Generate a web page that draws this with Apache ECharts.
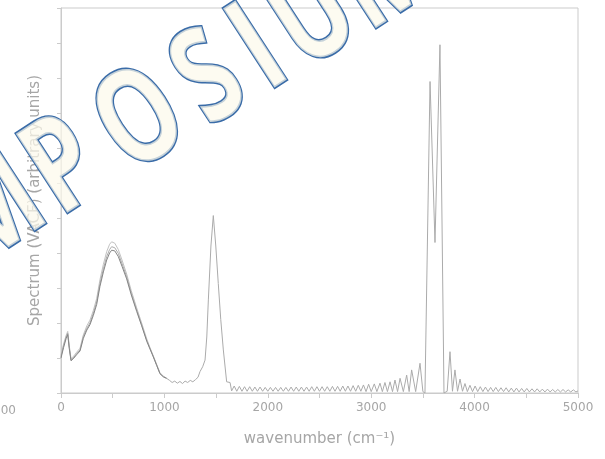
<!DOCTYPE html>
<html>
<head>
<meta charset="utf-8">
<script src="https://cdn.jsdelivr.net/npm/echarts@6/dist/echarts.min.js"></script>
<style>
  html, body { margin: 0; padding: 0; background: #fff; }
  #chart { width: 605px; height: 459px; }
</style>
</head>
<body>
<div id="chart"></div>
<script>
// Vibrational spectrum: wavenumber (cm^-1) against spectral intensity (arbitrary units)
const wavenumber = [
  0, 25, 50, 65, 80, 97, 125, 150, 184, 216, 250, 280, 313, 345, 377, 410, 442, 470, 490, 520,
  554, 590, 635, 680, 732, 780, 829, 860, 893, 925, 957, 990, 1021, 1050, 1075, 1100, 1125, 1150,
  1175, 1200, 1225, 1250, 1275, 1300, 1325, 1344, 1370, 1393, 1410, 1425, 1450, 1473, 1497, 1521,
  1545, 1570, 1602, 1635,
  1650, 1675, 1700, 1725, 1750, 1775, 1800, 1825, 1850, 1875, 1900, 1925, 1950, 1975, 2000, 2025,
  2050, 2075, 2100, 2125, 2150, 2175, 2200, 2225, 2250, 2275, 2300, 2325, 2350, 2375, 2400, 2425,
  2450, 2475, 2500, 2525, 2550, 2575, 2600, 2625, 2650, 2675, 2700, 2725, 2750, 2775, 2800, 2825,
  2850, 2875, 2900, 2925, 2950, 2975, 3000,
  3030, 3055, 3085, 3108, 3133, 3157, 3182, 3206, 3230, 3255, 3279, 3311, 3343, 3367, 3391, 3430,
  3472, 3500, 3520, 3569, 3617, 3665, 3704,
  3735, 3762, 3786, 3810, 3835, 3859, 3883, 3907, 3930, 3955, 3980, 4005, 4030, 4055, 4080, 4105,
  4130, 4155, 4180, 4205, 4230, 4255, 4280, 4305, 4330, 4355, 4380, 4405, 4430, 4455, 4480, 4505,
  4530, 4555, 4580, 4605, 4630, 4655, 4680, 4705, 4730, 4755, 4780, 4805, 4830, 4855, 4880, 4905,
  4930, 4955, 4980, 5000
];

const spectrumMain = [
  1.04, 1.35, 1.60, 1.71, 1.30, 0.94, 1.02, 1.12, 1.23, 1.61, 1.85, 2.00, 2.28, 2.60, 3.13, 3.55, 3.90, 4.10, 4.18, 4.15,
  3.99, 3.70, 3.32, 2.85, 2.37, 1.95, 1.51, 1.28, 1.04, 0.80, 0.56, 0.47, 0.42, 0.36, 0.30, 0.34, 0.28, 0.33,
  0.27, 0.34, 0.30, 0.36, 0.32, 0.38, 0.45, 0.61, 0.75, 0.94, 1.60, 2.66, 4.20, 5.07, 4.20, 3.13,
  2.10, 1.23, 0.32, 0.30,
  0.06, 0.20, 0.05, 0.19, 0.05, 0.18, 0.05, 0.18, 0.05, 0.17, 0.05, 0.17, 0.05, 0.16, 0.05, 0.16,
  0.05, 0.16, 0.05, 0.16, 0.05, 0.16, 0.05, 0.17, 0.05, 0.17, 0.05, 0.17, 0.05, 0.17, 0.05, 0.18,
  0.05, 0.18, 0.05, 0.18, 0.05, 0.18, 0.05, 0.19, 0.05, 0.19, 0.05, 0.20, 0.05, 0.20, 0.05, 0.21,
  0.05, 0.22, 0.05, 0.23, 0.04, 0.25, 0.04,
  0.26, 0.04, 0.28, 0.04, 0.30, 0.04, 0.32, 0.04, 0.37, 0.04, 0.42, 0.04, 0.51, 0.04, 0.66, 0.04,
  0.85, 0.04, 0.00, 8.90, 4.30, 9.95, 0.00,
  0.05, 1.18, 0.05, 0.66, 0.05, 0.40, 0.05, 0.27, 0.04, 0.22, 0.04, 0.20, 0.04, 0.18, 0.04, 0.17,
  0.04, 0.16, 0.04, 0.16, 0.04, 0.15, 0.04, 0.15, 0.03, 0.14, 0.03, 0.14, 0.03, 0.13, 0.03, 0.13,
  0.03, 0.12, 0.03, 0.12, 0.03, 0.11, 0.03, 0.11, 0.03, 0.10, 0.03, 0.10, 0.03, 0.10, 0.03, 0.09,
  0.03, 0.09, 0.03, 0.06
];

// Two neighbouring curves that separate only across the broad low-frequency band
const bandWavenumber = wavenumber.slice(0, 33);
const spectrumUpper = [
  1.08, 1.40, 1.65, 1.76, 1.35, 0.98, 1.06, 1.16, 1.28, 1.66, 1.92, 2.08, 2.36, 2.70, 3.24, 3.68, 4.04, 4.25, 4.32, 4.28,
  4.10, 3.80, 3.40, 2.92, 2.43, 2.00, 1.55, 1.30, 1.06, 0.82, 0.58, 0.48, 0.42
];
const spectrumLower = [
  1.00, 1.30, 1.56, 1.67, 1.27, 0.92, 1.00, 1.09, 1.20, 1.56, 1.80, 1.95, 2.22, 2.53, 3.05, 3.46, 3.80, 4.00, 4.08, 4.06,
  3.90, 3.62, 3.26, 2.80, 2.33, 1.92, 1.48, 1.26, 1.03, 0.79, 0.55, 0.46, 0.42
];

const xTickLabels = ['0', '1000', '2000', '3000', '4000', '5000'];
const xTitle = 'wavenumber (cm⁻¹)';
const yTitle = 'Spectrum (VACF) (arbitrary units)';
const stampLetters = ['S', 'Y', 'M', 'P', 'O', 'S', 'I', 'U', 'M'];

const pairs = (xs, ys) => xs.map((x, i) => [x, ys[i]]);

const chart = echarts.init(document.getElementById('chart'), null, { renderer: 'canvas' });

const axisGrey = '#cbcbcb';
const textGrey = '#a6a6a6';

// Outlined, slightly condensed stamp lettering laid along a rising baseline
const baseAngle = 31 * Math.PI / 180;
const tilt = 33 * Math.PI / 180;
const ux = Math.cos(baseAngle), uy = -Math.sin(baseAngle);
const anchor = { x: 142, y: 123 };        // centre of the "O"
const offsets = [-330, -250, -172, -90, 0, 80, 138, 201, 285];
const stamp = stampLetters.map((ch, i) => ({
  type: 'text',
  x: anchor.x + offsets[i] * ux,
  y: anchor.y + offsets[i] * uy,
  rotation: tilt,
  scaleX: 0.82,
  scaleY: 1.12,
  z: 100,
  silent: true,
  style: {
    text: ch,
    font: '700 118px "Open Sans"',
    textAlign: 'center',
    textVerticalAlign: 'middle',
    fill: 'rgba(252,249,236,0.72)',
    stroke: '#3a6ca8',
    lineWidth: 2.8
  }
}));

chart.setOption({
  animation: false,
  backgroundColor: '#fff',
  grid: {
    left: 61, right: 27, top: 8, bottom: 66,
    show: true, borderColor: axisGrey, borderWidth: 1, backgroundColor: 'transparent'
  },
  xAxis: {
    type: 'value',
    min: 0, max: 5000, interval: 500,
    name: xTitle,
    nameLocation: 'middle',
    nameGap: 39,
    nameTextStyle: { color: textGrey, fontSize: 15, fontFamily: 'DejaVu Sans' },
    axisLine: { show: true, lineStyle: { color: axisGrey, width: 1 } },
    axisTick: { show: true, length: 5, inside: false, lineStyle: { color: axisGrey } },
    axisLabel: {
      color: textGrey, fontSize: 12, fontFamily: 'DejaVu Sans', margin: 9,
      formatter: v => (v % 1000 === 0 ? xTickLabels[v / 1000] : '')
    },
    splitLine: { show: false }
  },
  yAxis: {
    type: 'value',
    min: 0, max: 11, interval: 1,
    name: yTitle,
    nameLocation: 'middle',
    nameGap: 18,
    nameTextStyle: { color: textGrey, fontSize: 15, fontFamily: 'DejaVu Sans' },
    axisLine: { show: true, lineStyle: { color: axisGrey, width: 1 } },
    axisTick: { show: true, length: 4, inside: false, lineStyle: { color: axisGrey } },
    axisLabel: { show: false },
    splitLine: { show: false }
  },
  series: [
    {
      type: 'line', data: pairs(bandWavenumber, spectrumUpper), showSymbol: false,
      lineStyle: { color: '#c2c2c2', width: 1 }, z: 2
    },
    {
      type: 'line', data: pairs(wavenumber, spectrumMain), showSymbol: false,
      lineStyle: { color: '#ababab', width: 1 }, z: 3
    },
    {
      type: 'line', data: pairs(bandWavenumber, spectrumLower), showSymbol: false,
      lineStyle: { color: '#858585', width: 1 }, z: 4
    }
  ],
  graphic: [
    {
      type: 'text', x: 16, y: 411, silent: true,
      style: { text: '5000', font: '12px "DejaVu Sans"', fill: textGrey, textAlign: 'right', textVerticalAlign: 'middle' }
    }
  ].concat(stamp)
});
</script>
</body>
</html>
